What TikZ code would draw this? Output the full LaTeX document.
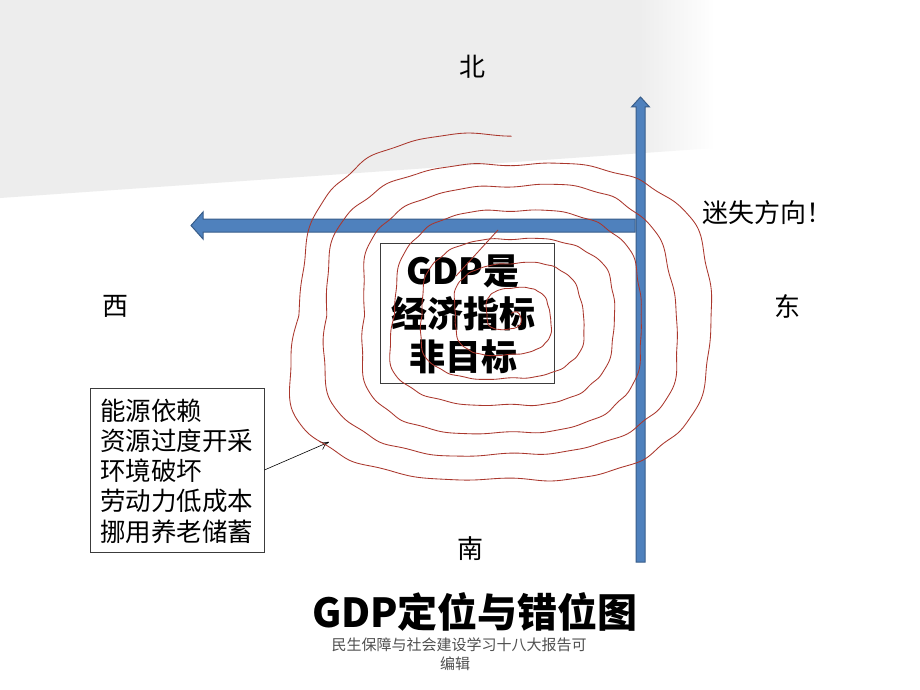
\documentclass[tikz,border=0pt]{standalone}
\usepackage{fontspec}
\setmainfont{Noto Sans CJK SC}
\usetikzlibrary{arrows.meta}
\definecolor{arrowblue}{RGB}{79,129,189}
\definecolor{arrowedge}{RGB}{56,93,138}
\definecolor{spiralred}{RGB}{170,55,45}
\definecolor{bggray}{RGB}{237,237,237}
\definecolor{footgray}{RGB}{80,80,80}
\definecolor{boxedge}{RGB}{60,60,60}
\begin{document}
\begin{tikzpicture}[x=1pt,y=-1pt,
  dirlabel/.style={font=\fontsize{26}{30}\selectfont, inner sep=0pt},
  blockarrow/.style={fill=arrowblue, draw=arrowedge, line width=1pt, line join=miter},
  framebox/.style={draw=boxedge, line width=0.8pt, inner sep=0pt},
  spiral/.style={draw=spiralred, line width=0.85pt}]
\useasboundingbox (0,0) rectangle (920,690);
\fill[white] (0,0) rectangle (920,690);
% faint gray background band
\begin{scope}
  \clip (0,0) -- (715,0) -- (715,148) -- (0,198) -- cycle;
  \fill[bggray] (0,0) rectangle (640,200);
  \shade[left color=bggray, right color=white] (639,0) rectangle (715,200);
\end{scope}
% blue arrows
\filldraw[blockarrow] (635,219) -- (203,219) -- (203,212) -- (191,225.5) -- (203,239) -- (203,232) -- (635,232) -- cycle;
\filldraw[blockarrow] (636,562) -- (636,107) -- (631.5,107) -- (640.5,97) -- (649.5,107) -- (645,107) -- (645,562) -- cycle;
% direction labels
\node[dirlabel] (north) at (472,67) {北};
\node[dirlabel] (west) at (115,306) {西};
\node[dirlabel] (east) at (787,306) {东};
\node[dirlabel] (south) at (470,549) {南};
\node[dirlabel, anchor=west] (lost) at (702,213) {迷失方向！};
% GDP box
\node[framebox, minimum width=174pt, minimum height=140pt] (gdpbox) at (467,313) {};
\node[align=center, inner sep=0pt, font=\fontsize{36}{43}\selectfont\bfseries] (gdptext) at (463,314) {GDP是\\经济指标\\非目标};
% left box
\node[framebox, minimum width=174pt, minimum height=164pt] (lbox) at (177,470) {};
\node[anchor=west, align=left, inner sep=0pt, font=\fontsize{25.5}{30.2}\selectfont] (ltext) at (100,471) {能源依赖\\资源过度开采\\环境破坏\\劳动力低成本\\挪用养老储蓄};
\coordinate (tip) at (329,442);
\draw[-{To[length=9pt,width=9pt]}, line width=0.6pt] (lbox.east) -- (tip);
% hand-drawn spiral
\draw[spiral] (498,230) -- (456,276);
\draw[spiral] plot[domain=-350:2160, samples=1674, smooth, variable=\u]
  ({511 + (32.4+0.087*\u)*(1+0.025*sin(2.3*\u+90))*((cos(\u+270)-0.05*cos(3*\u+810))/0.95 - 0.2*max(0,-cos(\u+270))*max(0,sin(\u+270)) + 0.004*(1.6*sin(7*mod(\u,360)) + 1.2*sin(13*mod(\u,360)+40) + 0.7*sin(23*mod(\u,360)+10)))},
   {315 + (32.4+0.087*\u)*(0.82*(1+0.02*cos(1.7*\u))*(sin(\u+270)+0.05*sin(3*\u+810))/0.95 + 0.004*(1.6*cos(9*mod(\u,360)) + 1.2*sin(15*mod(\u,360)+70) + 0.7*cos(25*mod(\u,360)+20)))});
% title and footer
\node[inner sep=0pt, font=\fontsize{40}{44}\selectfont\bfseries] (title) at (475,612) {GDP定位与错位图};
\node[inner sep=0pt, font=\fontsize{15}{18}\selectfont, text=footgray] (foot1) at (459,645) {民生保障与社会建设学习十八大报告可};
\node[inner sep=0pt, font=\fontsize{15}{18}\selectfont, text=footgray] (foot2) at (455,664) {编辑};
\end{tikzpicture}
\end{document}
